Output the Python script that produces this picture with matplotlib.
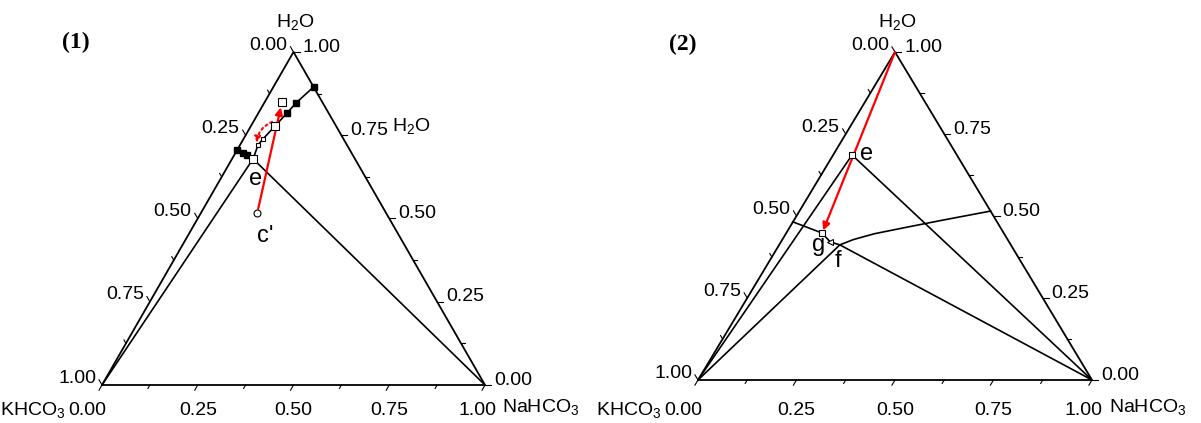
import numpy as np
import matplotlib.pyplot as plt

plt.rcParams['font.family'] = ['Liberation Sans', 'DejaVu Sans']
plt.rcParams['mathtext.fontset'] = 'custom'
plt.rcParams['mathtext.rm'] = 'Liberation Sans'
plt.rcParams['mathtext.default'] = 'regular'

# axis ticks (mass fractions)
tick_vals = [0.0, 0.25, 0.5, 0.75, 1.0]
tick_labels = ['0.00', '0.25', '0.50', '0.75', '1.00']
minor_vals = [0.125, 0.375, 0.625, 0.875]

# compositions are given as (NaHCO3 fraction, H2O fraction)
# panel (1)
p1_na_branch_n = [0.105, 0.083, 0.075, 0.063, 0.051, 0.047, 0.055]
p1_na_branch_w = [0.895, 0.847, 0.817, 0.778, 0.739, 0.721, 0.679]
p1_k_branch_n = [0.0, 0.019, 0.033, 0.055]
p1_k_branch_w = [0.706, 0.697, 0.691, 0.679]
p1_filled_n = [0.105, 0.083, 0.075, 0.0, 0.019, 0.033]
p1_filled_w = [0.895, 0.847, 0.817, 0.706, 0.697, 0.691]
p1_open_n = [0.063, 0.045, 0.055]
p1_open_w = [0.778, 0.850, 0.679]
p1_marks_n = [0.051, 0.047]
p1_marks_w = [0.739, 0.721]
p1_e = (0.055, 0.679)
p1_c = (0.147, 0.517)
p1_arrow_end = (0.045, 0.850)
p1_dot_start = (0.049, 0.790)
p1_dot_end = (0.041, 0.727)

# panel (2)
p2_e = (0.048, 0.686)
p2_g = (0.091, 0.448)
p2_tri = (0.125, 0.421)
p2_f = (0.154, 0.412)
p2_left = (0.0, 0.482)
p2_curve_n = [0.154, 0.180, 0.225, 0.283, 0.372, 0.485]
p2_curve_w = [0.412, 0.428, 0.446, 0.462, 0.486, 0.515]


def xy(n, w):
    n = np.asarray(n, dtype=float)
    w = np.asarray(w, dtype=float)
    return n + w / 2, w


def tick(ax, X, Y, ddx, ddy, L, sx, sy):
    px, py = ddx * sx, ddy * sy
    norm = np.hypot(px, py)
    ax.plot([X, X + L * px / norm / sx], [Y, Y + L * py / norm / sy],
            color='k', lw=0.8, clip_on=False)


def frame(ax, sx, sy, below, right_title):
    ax.plot([0, 1, 0.5, 0], [0, 0, 1, 0], color='k', lw=1.3, clip_on=False)
    for v in tick_vals + minor_vals:
        L = 6 if v in tick_vals else 4
        tick(ax, v, 0, -0.5, -1, L, sx, sy)               # NaHCO3 axis
        tick(ax, (1 - v) / 2, 1 - v, -0.5, 1, L, sx, sy)  # KHCO3 axis
        tick(ax, 1 - v / 2, v, 1, 0, L, sx, sy)           # H2O axis
    fs = 14
    for v, lab in zip(tick_vals, tick_labels):
        shift = -15 if v == 0 else (-8 if v == 1 else 0)
        ax.annotate(lab, (v, 0), xytext=(shift, -below), textcoords='offset pixels',
                    ha='center', va='center', fontsize=fs)
        ax.annotate(lab, ((1 - v) / 2, 1 - v), xytext=(-6, 7), textcoords='offset pixels',
                    ha='right', va='center', fontsize=fs)
        ax.annotate(lab, (1 - v / 2, v), xytext=(9, 5), textcoords='offset pixels',
                    ha='left', va='center', fontsize=fs)
    ax.annotate('KHCO$_3$', (0, 0), xytext=(-36, -below), textcoords='offset pixels',
                ha='right', va='center', fontsize=fs)
    ax.annotate('NaHCO$_3$', (1, 0), xytext=(17, -below + 3), textcoords='offset pixels',
                ha='left', va='center', fontsize=fs)
    ax.annotate('H$_2$O', (0.5, 1), xytext=(2, 30), textcoords='offset pixels',
                ha='center', va='center', fontsize=fs)
    if right_title:
        ax.annotate('H$_2$O', (1 - 0.75 / 2, 0.75), xytext=(51, 9), textcoords='offset pixels',
                    ha='left', va='center', fontsize=fs)
    ax.set_xlim(0, 1)
    ax.set_ylim(0, 1)
    ax.axis('off')


fig = plt.figure(figsize=(12.01, 4.23), dpi=100)
W, H = 1201, 423

# ---- panel (1)
l1, r1, t1, b1 = 102, 485, 52, 385
ax1 = fig.add_axes([l1 / W, (H - b1) / H, (r1 - l1) / W, (b1 - t1) / H])
frame(ax1, r1 - l1, b1 - t1, 25, True)

ex, ey = xy(*p1_e)
ax1.plot([0, ex, 1], [0, ey, 0], color='k', lw=1.2)
x, y = xy(p1_na_branch_n, p1_na_branch_w)
ax1.plot(x, y, color='k', lw=1.2)
x, y = xy(p1_k_branch_n, p1_k_branch_w)
ax1.plot(x, y, color='k', lw=1.2)
x, y = xy(p1_filled_n, p1_filled_w)
ax1.plot(x, y, 's', ms=5, color='k', zorder=4)
x, y = xy(p1_marks_n, p1_marks_w)
ax1.plot(x, y, 's', ms=3, mfc='white', mec='k', mew=0.8, zorder=4)
cx, cy = xy(*p1_c)
ax1.plot(cx, cy, 'o', ms=5, mfc='white', mec='k', mew=0.8, zorder=5)
ax1.annotate('', xy=xy(*p1_arrow_end), xytext=(cx, cy),
             arrowprops=dict(arrowstyle='-|>', color='red', lw=1.6,
                             mutation_scale=11, shrinkA=3, shrinkB=4), zorder=3)
ax1.annotate('', xy=xy(*p1_dot_end), xytext=xy(*p1_dot_start),
             arrowprops=dict(arrowstyle='-|>', color='red', lw=1.5, ls=':',
                             mutation_scale=9, shrinkA=0, shrinkB=0,
                             connectionstyle='arc3,rad=0.3'), zorder=3)
x, y = xy(p1_open_n, p1_open_w)
ax1.plot(x, y, 's', ms=6, mfc='white', mec='k', mew=0.8, zorder=5)
ax1.annotate('e', (ex, ey), xytext=(2, -20), textcoords='offset pixels',
             ha='center', va='center', fontsize=17)
ax1.annotate("c'", (cx, cy), xytext=(8, -23), textcoords='offset pixels',
             ha='center', va='center', fontsize=17)
fig.text(76 / W, 1 - 42 / H, '(1)', family='Liberation Serif', weight='bold',
         fontsize=17, ha='center', va='center')

# ---- panel (2)
l2, r2, t2, b2 = 698, 1092, 52, 380
ax2 = fig.add_axes([l2 / W, (H - b2) / H, (r2 - l2) / W, (b2 - t2) / H])
frame(ax2, r2 - l2, b2 - t2, 30, False)

ex, ey = xy(*p2_e)
fx, fy = xy(*p2_f)
gx, gy = xy(*p2_g)
tx, ty = xy(*p2_tri)
lx, ly = xy(*p2_left)
ax2.plot([0, ex, 1], [0, ey, 0], color='k', lw=1.2)
ax2.plot([0, fx, 1], [0, fy, 0], color='k', lw=1.2)
ax2.plot([lx, gx, tx, fx], [ly, gy, ty, fy], color='k', lw=1.2)
x, y = xy(p2_curve_n, p2_curve_w)
ax2.plot(x, y, color='k', lw=1.2)
ax2.annotate('', xy=(gx, gy), xytext=xy(0, 1),
             arrowprops=dict(arrowstyle='-|>', color='red', lw=1.6,
                             mutation_scale=11, shrinkA=0, shrinkB=2), zorder=3)
ax2.plot([ex, gx], [ey, gy], 's', ms=5, mfc='white', mec='k', mew=0.8, zorder=5)
ax2.plot(tx, ty, '<', ms=4, mfc='white', mec='k', mew=0.8, zorder=5)
ax2.annotate('e', (ex, ey), xytext=(15, 1), textcoords='offset pixels',
             ha='center', va='center', fontsize=17)
ax2.annotate('g', (gx, gy), xytext=(-3, -12), textcoords='offset pixels',
             ha='center', va='center', fontsize=17)
ax2.annotate('f', (fx, fy), xytext=(-2, -16), textcoords='offset pixels',
             ha='center', va='center', fontsize=17)
fig.text(683 / W, 1 - 44 / H, '(2)', family='Liberation Serif', weight='bold',
         fontsize=17, ha='center', va='center')

fig.savefig('out.png', dpi=100)
